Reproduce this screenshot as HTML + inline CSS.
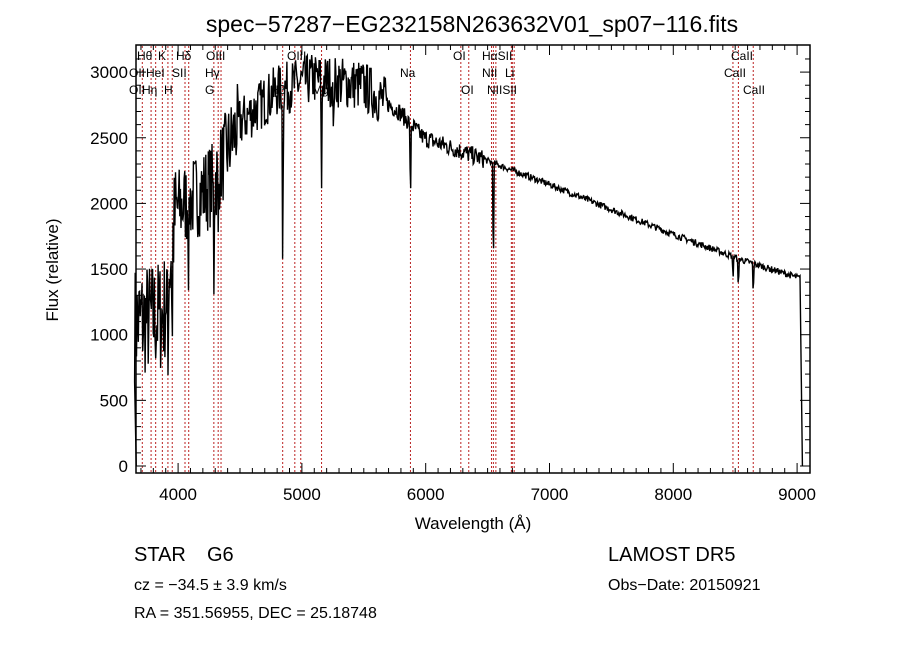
<!DOCTYPE html>
<html><head><meta charset="utf-8"><style>
body{margin:0;background:#fff;}
svg text{font-family:"Liberation Sans",sans-serif;fill:#000;}
</style></head><body>
<svg id="s" width="900" height="649" viewBox="0 0 900 649" xmlns="http://www.w3.org/2000/svg">
<rect width="900" height="649" fill="#fff"/>
<text x="472" y="32" font-size="23" text-anchor="middle">spec−57287−EG232158N263632V01_sp07−116.fits</text>
<g id="lines"></g>
<polyline id="spec" fill="none" stroke="#000" stroke-width="1.4"/>
<rect x="136" y="45" width="674" height="428" fill="none" stroke="#000" stroke-width="1.5"/>
<g id="ticks" stroke="#000" stroke-width="1"></g>
<g id="labs" font-size="12"></g>
<g font-size="17" text-anchor="end" id="ylab"></g>
<g font-size="17" text-anchor="middle" id="xlab"></g>
<text x="473" y="529" font-size="17" text-anchor="middle">Wavelength (Å)</text>
<text transform="translate(58,270) rotate(-90)" font-size="17" text-anchor="middle">Flux (relative)</text>
<text x="134" y="561" font-size="20">STAR</text>
<text x="207" y="561" font-size="20">G6</text>
<text x="608" y="561" font-size="20">LAMOST DR5</text>
<text x="134" y="590" font-size="16" font-family="Liberation Serif">cz = −34.5 ± 3.9 km/s</text>
<text x="608" y="590" font-size="16">Obs−Date: 20150921</text>
<text x="134" y="618" font-size="16">RA = 351.56955, DEC =  25.18748</text>
</svg>
<script>
var NS="http://www.w3.org/2000/svg";
function px(w){return 136+(w-3660)*0.1238;}
function py(f){return 466-f*0.1313;}
function el(p,t,a,txt){var e=document.createElementNS(NS,t);for(var k in a)e.setAttribute(k,a[k]);if(txt)e.textContent=txt;document.getElementById(p).appendChild(e);}
var L=[3727,3798,3835,3889,3934,3969,4072,4102,4305,4340,4363,4861,4959,5007,5175,5893,6300,6364,6548,6563,6583,6708,6716,6731,8498,8542,8662];
L.forEach(function(w){var x=px(w)-2;el("lines","line",{"x1":x,"x2":x,"y1":46,"y2":472,"stroke":"#b22","stroke-width":1,"stroke-dasharray":"2,2"});});
var labs=[[137,60,"Hθ"],[158,60,"K"],[176,60,"Hδ"],[206,60,"OIII"],[287,60,"OIII"],[453,60,"OI"],[482,60,"HαSII"],[731,60,"CaII"],
[129,77,"OII"],[146,77,"HeI"],[172,77,"SII"],[205,77,"Hγ"],[400,77,"Na"],[482,77,"NII"],[505,77,"Li"],[724,77,"CaII"],
[129,94,"OII"],[142,94,"Hη"],[164,94,"H"],[205,94,"G"],[270,94,"Hβ"],[312,94,"Mg"],[461,94,"OI"],[487,94,"NIISII"],[743,94,"CaII"]];
labs.forEach(function(l){el("labs","text",{"x":l[0],"y":l[1]},l[2]);});
for(var v=0;v<=3000;v+=500){var y=py(v);el("ylab","text",{"x":128,"y":y+6},String(v));el("ticks","line",{"x1":136,"x2":146,"y1":y,"y2":y});el("ticks","line",{"x1":810,"x2":800,"y1":y,"y2":y});}
for(var v=100;v<3200;v+=100){if(v%500){var y=py(v);el("ticks","line",{"x1":136,"x2":141,"y1":y,"y2":y});el("ticks","line",{"x1":810,"x2":805,"y1":y,"y2":y});}}
for(var w=4000;w<=9000;w+=1000){var x=px(w);el("xlab","text",{"x":x,"y":500},String(w));el("ticks","line",{"x1":x,"x2":x,"y1":473,"y2":463});el("ticks","line",{"x1":x,"x2":x,"y1":45,"y2":55});}
for(var w=3700;w<9100;w+=100){if(w%1000){var x=px(w);el("ticks","line",{"x1":x,"x2":x,"y1":473,"y2":468});el("ticks","line",{"x1":x,"x2":x,"y1":45,"y2":50});}}
var seed=7;function r(){seed=(seed*16807)%2147483647;return seed/2147483647;}
var K=[[3700,1100],[3900,1150],[4000,1950],[4300,2150],[4500,2600],[4800,2850],[5100,2950],[5500,2900],[5800,2700],[6000,2500],[6500,2330],[7000,2150],[8000,1770],[8600,1560],[9040,1430]];
function cont(w){for(var i=0;i<K.length-1;i++){if(w<=K[i+1][0]){var t=(w-K[i][0])/(K[i+1][0]-K[i][0]);return K[i][1]+t*(K[i+1][1]-K[i][1]);}}return 1400;}
var abs=[[3934,900],[3969,900],[4102,600],[4305,700],[4340,600],[4861,1600],[5175,900],[5270,500],[5893,800],[6563,1000],[8498,200],[8542,300],[8662,300]];
var pts=[];pts.push(px(3662)+","+py(0));
for(var w=3665;w<=9040;w+=5){var c=cont(w);var n=w<4000?450:w<4500?330:w<5700?200:w<6500?70:25;var f=c+(r()-0.5)*2*n;
abs.forEach(function(a){var d=Math.abs(w-a[0]);if(d<6)f-=a[1]*(1-d/6);});
if(f>3200)f=3200;if(f<300&&w>3700)f=400+r()*200;pts.push((px(w)-2).toFixed(1)+","+py(f).toFixed(1));}
pts.push(px(9043)+","+py(0));
document.getElementById("spec").setAttribute("points",pts.join(" "));
</script>
</body></html>
